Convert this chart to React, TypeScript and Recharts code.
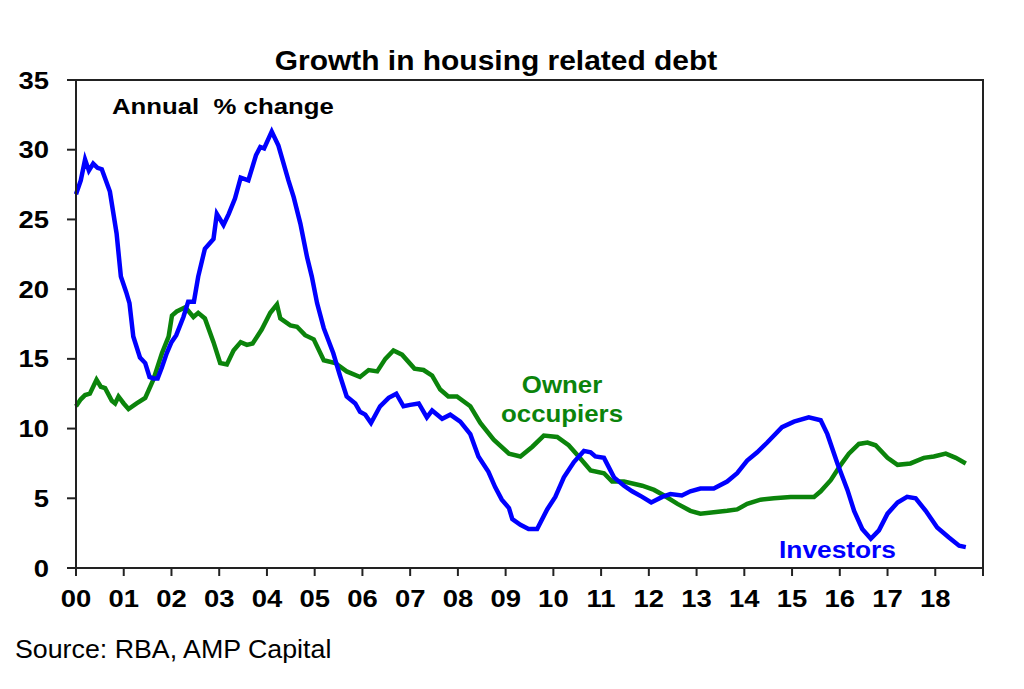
import { LineChart, Line, XAxis, YAxis, ReferenceArea } from 'recharts';

// Investors: year offset from 2000, annual % change
const investorYears = [
  0.0, 0.1, 0.19, 0.27, 0.36, 0.45, 0.54, 0.71, 0.85, 0.94, 1.05, 1.12, 1.2, 1.34, 1.45, 1.54, 1.62, 1.71,
  1.8, 1.9, 2.0, 2.1, 2.25, 2.35, 2.47, 2.56, 2.7, 2.88, 2.95, 3.09, 3.2, 3.33, 3.45, 3.61, 3.77, 3.86,
  3.94, 4.1, 4.24, 4.45, 4.56, 4.7, 4.84, 4.94, 5.05, 5.19, 5.39, 5.53, 5.67, 5.85, 5.95, 6.06, 6.18,
  6.37, 6.55, 6.71, 6.86, 7.0, 7.18, 7.35, 7.46, 7.67, 7.84, 8.05, 8.26, 8.43, 8.64, 8.78, 8.92, 9.07,
  9.14, 9.31, 9.48, 9.66, 9.87, 10.04, 10.22, 10.43, 10.64, 10.78, 10.88, 11.06, 11.27, 11.48, 11.65,
  11.86, 12.05, 12.28, 12.45, 12.69, 12.87, 13.08, 13.36, 13.64, 13.85, 14.06, 14.27, 14.48, 14.79,
  15.04, 15.35, 15.6, 15.74, 15.95, 16.16, 16.3, 16.47, 16.65, 16.82, 17.0, 17.21, 17.41, 17.59, 17.8,
  18.04, 18.28, 18.5, 18.64,
];
const investorValues = [
  26.8, 27.8, 29.3, 28.5, 29.0, 28.7, 28.6, 27.0, 24.0, 20.9, 19.8, 19.0, 16.6, 15.1, 14.7, 13.7, 13.6, 13.6,
  14.4, 15.4, 16.2, 16.7, 18.0, 19.1, 19.1, 20.9, 22.9, 23.6, 25.4, 24.6, 25.4, 26.5, 28.0, 27.8, 29.6, 30.2,
  30.1, 31.3, 30.3, 27.8, 26.6, 24.7, 22.3, 20.9, 19.0, 17.2, 15.4, 13.8, 12.3, 11.8, 11.2, 11.0, 10.4,
  11.6, 12.2, 12.5, 11.6, 11.7, 11.8, 10.8, 11.3, 10.7, 11.0, 10.5, 9.6, 8.0, 6.9, 5.8, 4.9, 4.3,
  3.5, 3.1, 2.8, 2.8, 4.2, 5.1, 6.5, 7.6, 8.4, 8.3, 8.0, 7.9, 6.5, 5.9, 5.5,
  5.1, 4.7, 5.1, 5.3, 5.2, 5.5, 5.7, 5.7, 6.2, 6.8, 7.7, 8.3, 9.0, 10.1,
  10.5, 10.8, 10.6, 9.6, 7.5, 5.6, 4.1, 2.8, 2.1, 2.7, 3.9, 4.7, 5.1, 5.0, 4.1,
  2.9, 2.2, 1.6, 1.5,
];

// Owner occupiers
const ownerYears = [
  0.0, 0.1, 0.19, 0.29, 0.43, 0.52, 0.61, 0.75, 0.82, 0.89, 1.0, 1.1, 1.27, 1.45, 1.62, 1.8, 1.94, 2.01,
  2.11, 2.29, 2.46, 2.56, 2.7, 2.88, 3.02, 3.16, 3.3, 3.45, 3.58, 3.7, 3.89, 4.07, 4.21, 4.28, 4.49, 4.63,
  4.8, 4.98, 5.19, 5.43, 5.67, 5.95, 6.13, 6.31, 6.48, 6.65, 6.83, 7.09, 7.28, 7.46, 7.63, 7.8, 7.98,
  8.26, 8.47, 8.75, 9.07, 9.31, 9.56, 9.8, 10.08, 10.32, 10.53, 10.78, 11.06, 11.23, 11.48, 11.86, 12.11,
  12.32, 12.6, 12.87, 13.08, 13.36, 13.64, 13.85, 14.06, 14.34, 14.62, 14.97, 15.25, 15.46, 15.6, 15.81,
  16.02, 16.19, 16.4, 16.58, 16.75, 17.0, 17.21, 17.48, 17.76, 17.97, 18.22, 18.43, 18.64,
];
const ownerValues = [
  11.6, 12.1, 12.4, 12.5, 13.5, 13.0, 12.9, 12.0, 11.8, 12.3, 11.8, 11.4, 11.8, 12.2, 13.5, 15.4, 16.6, 18.1,
  18.4, 18.7, 18.0, 18.3, 17.9, 16.2, 14.7, 14.6, 15.6, 16.2, 16.0, 16.1, 17.1, 18.3, 18.9, 17.9, 17.4, 17.3,
  16.7, 16.4, 14.9, 14.7, 14.1, 13.7, 14.2, 14.1, 15.0, 15.6, 15.3, 14.3, 14.2, 13.8, 12.8, 12.3, 12.3,
  11.6, 10.4, 9.2, 8.2, 8.0, 8.7, 9.5, 9.4, 8.8, 8.0, 7.0, 6.8, 6.2, 6.2, 5.9, 5.6,
  5.2, 4.6, 4.1, 3.9, 4.0, 4.1, 4.2, 4.6, 4.9, 5.0, 5.1, 5.1, 5.1, 5.5, 6.3,
  7.4, 8.2, 8.9, 9.0, 8.8, 7.9, 7.4, 7.5, 7.9, 8.0, 8.2, 7.9, 7.5,
];

const xTicks = [0, 1, 2, 3, 4, 5, 6, 7, 8, 9, 10, 11, 12, 13, 14, 15, 16, 17, 18, 19];
const yearLabels = ['00', '01', '02', '03', '04', '05', '06', '07', '08', '09', '10', '11', '12', '13', '14', '15', '16', '17', '18', ''];
const yTicks = [0, 5, 10, 15, 20, 25, 30, 35];

const investorData = investorYears.map((x, i) => ({ x, y: investorValues[i] }));
const ownerData = ownerYears.map((x, i) => ({ x, y: ownerValues[i] }));

const FONT = '"Liberation Sans", Arial, Helvetica, sans-serif';
const BLUE = '#0000ff';
const GREEN = '#0b840b';

// the original's lettering is a little wider than Arial, so stretch it sideways
const Wide = ({ x, y, size, sx, anchor = 'start', bold = true, fill = '#000', children }: any) => (
  <text
    transform={`translate(${x},${y}) scale(${sx},1)`}
    textAnchor={anchor}
    fontSize={size}
    fontWeight={bold ? 'bold' : 'normal'}
    fill={fill}
    fontFamily={FONT}
  >
    {children}
  </text>
);

const XTick = ({ x, y, payload }: any) => (
  <Wide x={x} y={y + 17} size={24.5} sx={1.12} anchor="middle">
    {yearLabels[payload.value]}
  </Wide>
);

const YTick = ({ x, y, payload }: any) => (
  <Wide x={x} y={y + 8.5} size={24.5} sx={1.12} anchor="end">
    {payload.value}
  </Wide>
);

const App = () => {
  return (
    <div style={{ position: 'absolute', left: 0, top: 0, width: 1024, height: 689, background: '#fff', fontFamily: FONT }}>
      <LineChart width={1024} height={689} margin={{ top: 80, right: 41, bottom: 71, left: 0 }}>
        <XAxis
          type="number"
          dataKey="x"
          domain={[0, 19]}
          ticks={xTicks}
          allowDuplicatedCategory={false}
          height={50}
          stroke="#222"
          strokeWidth={2}
          tickSize={8}
          tickMargin={14}
          tick={<XTick />}
        />
        <YAxis
          type="number"
          domain={[0, 35]}
          ticks={yTicks}
          width={76}
          stroke="#222"
          strokeWidth={2}
          tickSize={9}
          tickMargin={18}
          tick={<YTick />}
        />
        <ReferenceArea x1={0} x2={19} y1={0} y2={35} fill="none" stroke="#222" strokeWidth={2} ifOverflow="visible" />
        <Line data={ownerData} dataKey="y" type="linear" stroke={GREEN} strokeWidth={4.5} dot={false} isAnimationActive={false} />
        <Line data={investorData} dataKey="y" type="linear" stroke={BLUE} strokeWidth={4.5} dot={false} isAnimationActive={false} />
      </LineChart>
      <svg width={1024} height={689} style={{ position: 'absolute', left: 0, top: 0, pointerEvents: 'none' }}>
        <Wide x={496} y={70} size={28} sx={1.07} anchor="middle">
          Growth in housing related debt
        </Wide>
        <Wide x={112} y={114} size={23} sx={1.12}>
          {'Annual\u00a0 % change'}
        </Wide>
        <Wide x={562} y={393} size={23.5} sx={1.1} anchor="middle" fill={GREEN}>
          Owner
        </Wide>
        <Wide x={562} y={422} size={23.5} sx={1.1} anchor="middle" fill={GREEN}>
          occupiers
        </Wide>
        <Wide x={779} y={558} size={23.5} sx={1.12} fill={BLUE}>
          Investors
        </Wide>
        <Wide x={15} y={658} size={26} sx={1.03} bold={false}>
          Source: RBA, AMP Capital
        </Wide>
      </svg>
    </div>
  );
};

export default App;
